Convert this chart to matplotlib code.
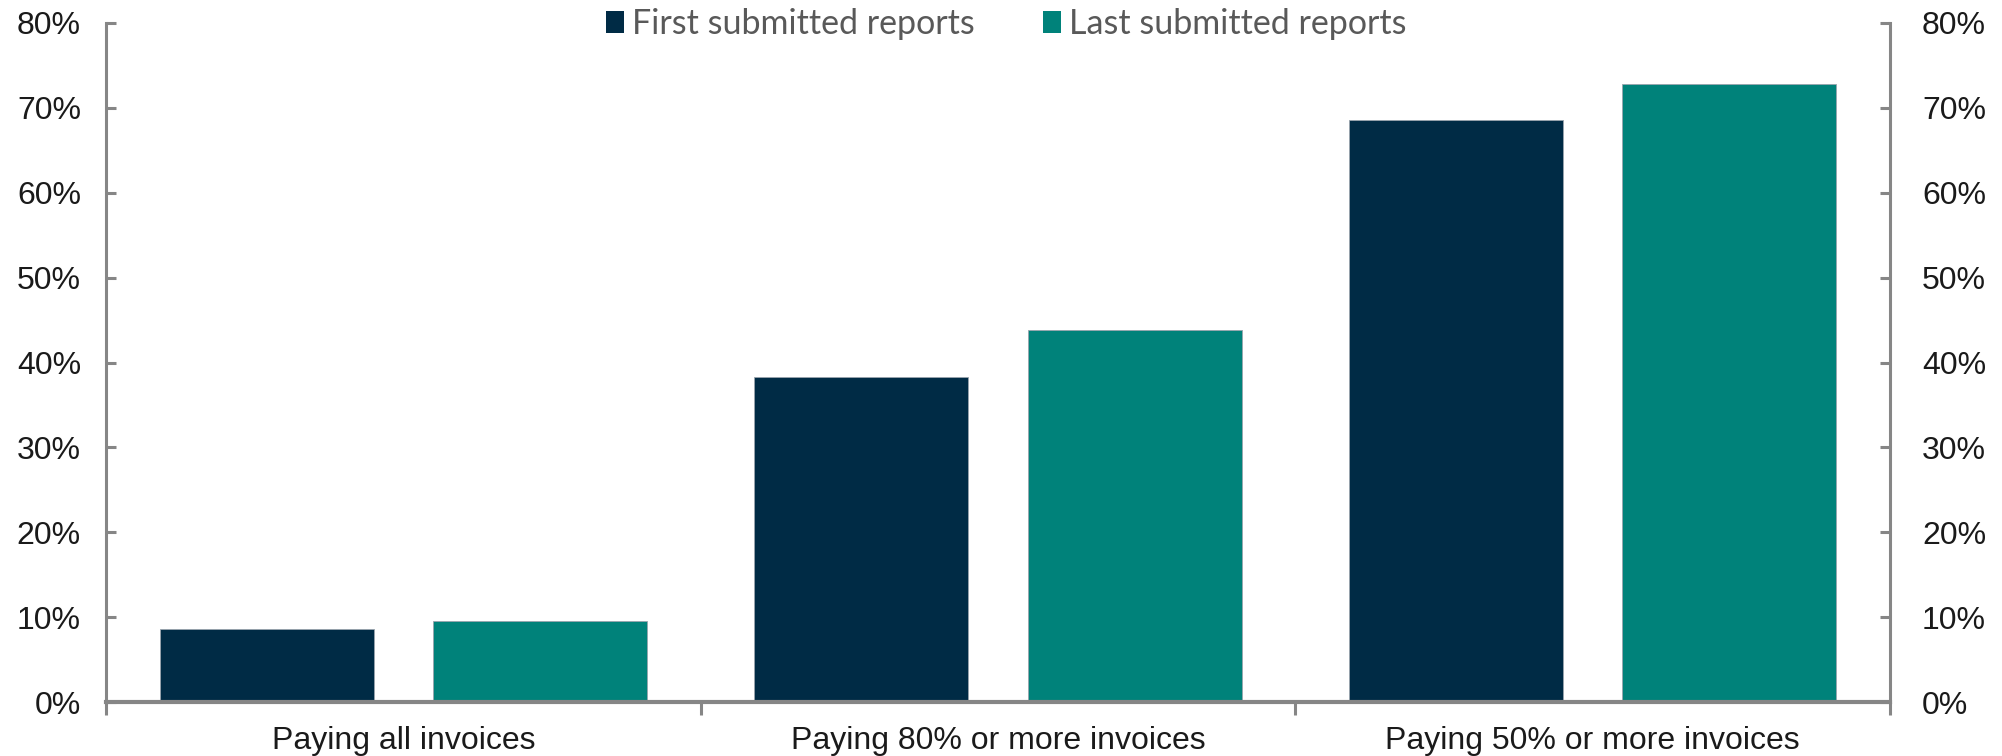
import numpy as np
import matplotlib.pyplot as plt
from matplotlib.patches import Patch
from matplotlib.ticker import PercentFormatter

# 数据
categories = ['Paying all invoices', 'Paying 80% or more invoices', 'Paying 50% or more invoices']
first_reports = [8.6, 38.3, 68.6]
last_reports = [9.5, 43.8, 72.8]
series_names = ['First submitted reports', 'Last submitted reports']
colors = ['#002B45', '#00827A']
axis_grey = '#868686'

plt.rcParams['font.family'] = ['Liberation Sans', 'DejaVu Sans']

fig = plt.figure(figsize=(20.02, 7.56), dpi=100)
ax = fig.add_axes([106 / 2002, 1 - 702 / 756, (1890 - 106) / 2002, (702 - 23) / 756])

x = np.arange(len(categories))
w = 0.36
ax.bar(x - 0.23, first_reports, w, color=colors[0], edgecolor='#9aa4ad', linewidth=0.6)
ax.bar(x + 0.23, last_reports, w, color=colors[1], edgecolor='#9aa4ad', linewidth=0.6)

ax.set_xlim(-0.5, len(categories) - 0.5)
ax.set_ylim(0, 80)
ax.set_yticks(np.arange(0, 81, 10))
ax.yaxis.set_major_formatter(PercentFormatter(decimals=0))

# 右侧坐标轴
ax2 = ax.twinx()
ax2.set_ylim(0, 80)
ax2.set_yticks(np.arange(0, 81, 10))
ax2.yaxis.set_major_formatter(PercentFormatter(decimals=0))

for a in (ax, ax2):
    a.spines['top'].set_visible(False)
    for s in ('left', 'right', 'bottom'):
        a.spines[s].set_color(axis_grey)
        a.spines[s].set_linewidth(2.2)
ax.spines['bottom'].set_linewidth(3)
ax.spines['right'].set_visible(False)
ax2.spines['left'].set_visible(False)
ax2.spines['bottom'].set_visible(False)

ax.tick_params(axis='y', direction='in', length=7, width=2.2, color=axis_grey,
               labelsize=23, labelcolor='#1a1a1a', pad=18)
ax2.tick_params(axis='y', direction='in', length=7, width=2.2, color=axis_grey,
                labelsize=23, labelcolor='#1a1a1a', pad=23)

ax.set_xticks(x)
ax.set_xticklabels(categories)
ax.set_xticks(np.arange(-0.5, len(categories), 1), minor=True)
ax.tick_params(axis='x', which='major', length=0, labelsize=23, labelcolor='#1a1a1a', pad=17)
ax.tick_params(axis='x', which='minor', direction='out', length=9, width=2.2, color=axis_grey)

handles = [Patch(facecolor=c, edgecolor='none') for c in colors]
fig.legend(handles, series_names, loc='center', bbox_to_anchor=(1006 / 2002, 1 - 24 / 756),
           ncol=2, frameon=False, handlelength=0.55, handleheight=0.6, handletextpad=0.22,
           columnspacing=2.0, prop={'family': ['Lato', 'DejaVu Sans'], 'size': 24.5},
           labelcolor='#595959')

fig.savefig('out.png', dpi=100)
